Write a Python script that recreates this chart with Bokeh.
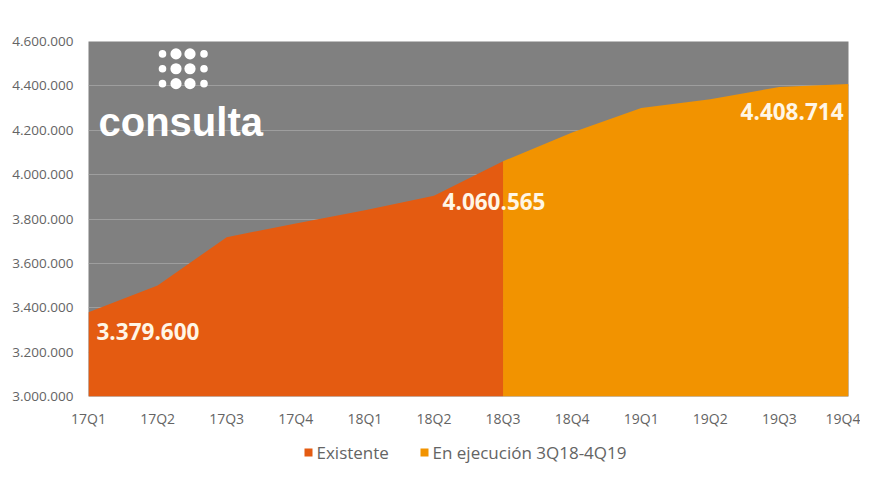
from bokeh.plotting import figure
from bokeh.models import FixedTicker
from bokeh.layouts import column
from bokeh.core.properties import value
from bokeh.embed import file_html
from bokeh.resources import INLINE

# ---- data ----
quarters = ["17Q1", "17Q2", "17Q3", "17Q4", "18Q1", "18Q2", "18Q3",
            "18Q4", "19Q1", "19Q2", "19Q3", "19Q4"]
existente = [3379600, 3500000, 3718000, 3780000, 3840000, 3905000, 4060565]
ejecucion = [4060565, 4190000, 4300000, 4340000, 4395000, 4408714]
y_ticks = [3000000, 3200000, 3400000, 3600000, 3800000, 4000000, 4200000, 4400000, 4600000]
series_names = ["Existente", "En ejecución 3Q18-4Q19"]
highlight_idx = [0, 6, 11]
highlight_val = [3379600, 4060565, 4408714]

COLORS = ["#e45b11", "#f29300"]

def fmt(v):
    return f"{v:,}".replace(",", ".")

W, H = 860, 430
BL, BR, BT, BB = 88, 12, 41, 31
Y0, Y1 = 3000000, 4600000
X0, X1 = 0, len(quarters) - 1

p = figure(width=W, height=H, output_backend="svg", toolbar_location=None,
           x_range=(X0, X1), y_range=(Y0, Y1),
           min_border_left=BL, min_border_right=BR, min_border_top=BT, min_border_bottom=BB)
p.background_fill_color = "#808080"
p.border_fill_color = "white"
p.outline_line_color = None

ex_x = list(range(len(existente)))
ej_x = list(range(len(existente) - 1, len(existente) - 1 + len(ejecucion)))
p.varea(x=ex_x, y1=[Y0] * len(ex_x), y2=existente, fill_color=COLORS[0])
p.varea(x=ej_x, y1=[Y0] * len(ej_x), y2=ejecucion, fill_color=COLORS[1])

# grid
p.xgrid.visible = False
p.ygrid.grid_line_color = "#9e9e9e"
p.ygrid.grid_line_width = 1
p.ygrid.level = "underlay"

# axes
p.xaxis.ticker = FixedTicker(ticks=list(range(len(quarters))))
p.xaxis.major_label_overrides = {i: q for i, q in enumerate(quarters)}
p.yaxis.ticker = FixedTicker(ticks=y_ticks)
p.yaxis.major_label_overrides = {t: fmt(t) for t in y_ticks}
for ax in (p.xaxis[0], p.yaxis[0]):
    ax.axis_line_color = None
    ax.major_tick_line_color = None
    ax.minor_tick_line_color = None
    ax.major_tick_out = 0
    ax.major_tick_in = 0
    ax.major_label_text_color = "#646464"
    ax.major_label_text_font = "Open Sans"
p.yaxis.major_label_text_font_size = "13.5px"
p.xaxis.major_label_text_font_size = "14px"
p.yaxis.major_label_standoff = 15
p.xaxis.major_label_standoff = 12

# value labels
offsets = [(8, 19, "left"), (-9, 40, "center"), (-5, 28, "right")]
for (i, v), (dx, dy, al) in zip(zip(highlight_idx, highlight_val), offsets):
    p.text(x=[i], y=[v], text=[fmt(v)], x_offset=dx, y_offset=dy,
           text_align=al, text_baseline="middle",
           text_font=value("Open Sans"), text_font_style="bold",
           text_font_size="22.5px", text_color="#fff6e6")

# logo (decoration, placed by pixel position inside the frame)
def px_x(x):
    return X0 + (x - BL) / (W - BL - BR) * (X1 - X0)

def px_y(y):
    return Y1 - (y - BT) / (H - BT - BB) * (Y1 - Y0)

dot_cols = [162, 175.5, 189.5, 203.5]
dot_rows = [53.5, 68.5, 83.5]
dx, dy, dr = [], [], []
for yy in dot_rows:
    for j, xx in enumerate(dot_cols):
        dx.append(px_x(xx)); dy.append(px_y(yy))
        dr.append(3.8 if j in (0, 3) else 5.6)
p.circle(x=dx, y=dy, radius=dr, radius_units="screen",
         fill_color="white", line_color=None)
p.text(x=[px_x(98)], y=[px_y(122)], text=["consulta"],
       text_font=value("Liberation Sans"), text_font_style="bold",
       text_font_size="40px", text_color="white", text_baseline="alphabetic",
       text_align="left")

# legend strip below (frame aligned with the main plot; data units = page pixels)
LH = 50
q = figure(width=W, height=LH, output_backend="svg", toolbar_location=None,
           x_range=(BL, W - BR), y_range=(0, LH),
           min_border_left=BL, min_border_right=BR, min_border_top=0, min_border_bottom=0)
q.axis.visible = False
q.grid.visible = False
q.outline_line_color = None
q.border_fill_color = "white"
q.background_fill_color = "white"
sq_x = [308, 424]
q.rect(x=sq_x, y=[28, 28], width=8, height=8, fill_color=COLORS, line_color=None)
q.text(x=[s + 8 for s in sq_x], y=[28, 28], text=series_names,
       text_baseline="middle", text_align="left",
       text_font=value("Open Sans"), text_font_size="17px", text_color="#646464")

open("out.html", "w").write(file_html(column(p, q, spacing=0), INLINE))
